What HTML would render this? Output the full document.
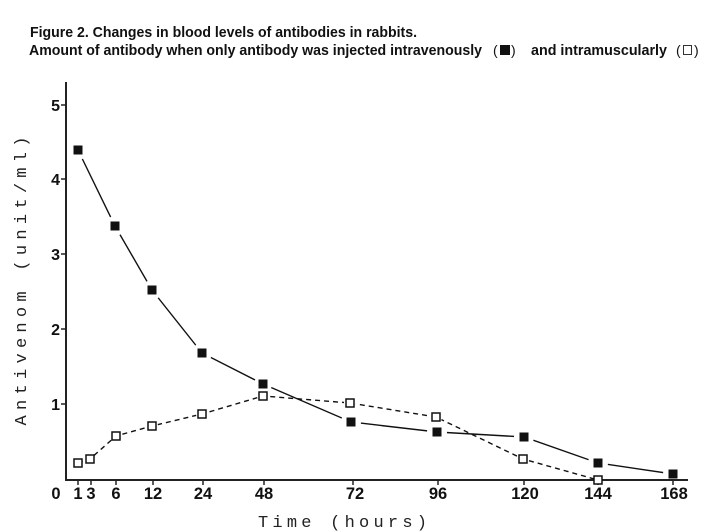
<!DOCTYPE html>
<html><head><meta charset="utf-8"><style>
html,body{margin:0;padding:0;background:#fff;}
svg{display:block;}
</style></head><body>
<svg width="718" height="532" viewBox="0 0 718 532" xmlns="http://www.w3.org/2000/svg">
<rect width="718" height="532" fill="#fff"/>
<!-- Title -->
<g font-family="Liberation Sans, Noto Sans CJK JP, sans-serif" font-size="15" font-weight="bold" fill="#111">
<text x="30" y="37" textLength="387" lengthAdjust="spacingAndGlyphs">Figure 2. Changes in blood levels of antibodies in rabbits.</text>
<text x="29" y="55" textLength="453" lengthAdjust="spacingAndGlyphs">Amount of antibody when only antibody was injected intravenously</text>
<text x="531" y="55" textLength="136" lengthAdjust="spacingAndGlyphs">and intramuscularly</text>
</g>
<g font-family="Liberation Sans, sans-serif" font-size="14" fill="#111">
<text x="493" y="55">(</text>
<text x="511" y="55">)</text>
<text x="676" y="55">(</text>
<text x="694" y="55">)</text>
</g>
<rect x="500" y="45" width="10" height="10" fill="#111"/>
<rect x="683.5" y="45.5" width="8" height="9" fill="none" stroke="#333" stroke-width="1"/>

<!-- series lines -->
<polyline points="78,150 115,226 152,290 202,353 263,384 351,422 437,432 524,437 598,463 673,474" fill="none" stroke="#111" stroke-width="1.4"/>
<polyline points="78,463 90,459 116,436 152,426 202,414 263,396 350,403 436,417 523,459 598,480" fill="none" stroke="#111" stroke-width="1.4" stroke-dasharray="5,4"/>

<!-- halos -->
<g fill="#fff">
<circle cx="78" cy="150" r="10"/><circle cx="115" cy="226" r="10"/><circle cx="152" cy="290" r="10"/>
<circle cx="202" cy="353" r="10"/><circle cx="263" cy="384" r="9"/><circle cx="351" cy="422" r="10"/>
<circle cx="437" cy="432" r="10"/><circle cx="524" cy="437" r="10"/><circle cx="598" cy="463" r="10"/>
<circle cx="673" cy="474" r="10"/>
<circle cx="116" cy="436" r="6"/><circle cx="152" cy="426" r="6"/><circle cx="202" cy="414" r="6"/>
<circle cx="263" cy="396" r="6"/><circle cx="350" cy="403" r="6"/><circle cx="436" cy="417" r="6"/>
<circle cx="523" cy="459" r="6"/>
</g>

<!-- axes -->
<g stroke="#222" stroke-width="2" fill="none">
<line x1="66" y1="82" x2="66" y2="481"/>
<line x1="65" y1="480" x2="688" y2="480"/>
</g>
<g stroke="#222" stroke-width="1.5">
<line x1="61" y1="105" x2="66" y2="105"/>
<line x1="61" y1="179" x2="66" y2="179"/>
<line x1="61" y1="254" x2="66" y2="254"/>
<line x1="61" y1="329" x2="66" y2="329"/>
<line x1="61" y1="404" x2="66" y2="404"/>
<line x1="78" y1="480" x2="78" y2="485"/>
<line x1="91" y1="480" x2="91" y2="485"/>
<line x1="116" y1="480" x2="116" y2="485"/>
<line x1="153" y1="480" x2="153" y2="485"/>
<line x1="203" y1="480" x2="203" y2="485"/>
<line x1="264" y1="480" x2="264" y2="485"/>
<line x1="353" y1="480" x2="353" y2="485"/>
<line x1="438" y1="480" x2="438" y2="485"/>
<line x1="524" y1="480" x2="524" y2="485"/>
<line x1="598" y1="480" x2="598" y2="485"/>
<line x1="673" y1="480" x2="673" y2="485"/>
</g>

<!-- y tick labels -->
<g font-family="Liberation Sans, sans-serif" font-size="16" font-weight="bold" fill="#111" text-anchor="end">
<text x="60" y="111">5</text>
<text x="60" y="185">4</text>
<text x="60" y="260">3</text>
<text x="60" y="335">2</text>
<text x="60" y="410">1</text>
</g>
<!-- x tick labels -->
<g font-family="Liberation Sans, sans-serif" font-size="16.5" font-weight="bold" fill="#111" text-anchor="middle">
<text x="56" y="499">0</text>
<text x="78" y="499">1</text>
<text x="91" y="499">3</text>
<text x="116" y="499">6</text>
<text x="153" y="499">12</text>
<text x="203" y="499">24</text>
<text x="264" y="499">48</text>
<text x="355" y="499">72</text>
<text x="438" y="499">96</text>
<text x="525" y="499">120</text>
<text x="598" y="499">144</text>
<text x="674" y="499">168</text>
</g>

<!-- markers -->
<g fill="#111">
<rect x="73.5" y="145.5" width="9" height="9"/>
<rect x="110.5" y="221.5" width="9" height="9"/>
<rect x="147.5" y="285.5" width="9" height="9"/>
<rect x="197.5" y="348.5" width="9" height="9"/>
<rect x="258.5" y="379.5" width="9" height="9"/>
<rect x="346.5" y="417.5" width="9" height="9"/>
<rect x="432.5" y="427.5" width="9" height="9"/>
<rect x="519.5" y="432.5" width="9" height="9"/>
<rect x="593.5" y="458.5" width="9" height="9"/>
<rect x="668.5" y="469.5" width="9" height="9"/>
</g>
<g fill="#fff" stroke="#111" stroke-width="1.5">
<rect x="74" y="459" width="8" height="8"/>
<rect x="86" y="455" width="8" height="8"/>
<rect x="112" y="432" width="8" height="8"/>
<rect x="148" y="422" width="8" height="8"/>
<rect x="198" y="410" width="8" height="8"/>
<rect x="259" y="392" width="8" height="8"/>
<rect x="346" y="399" width="8" height="8"/>
<rect x="432" y="413" width="8" height="8"/>
<rect x="519" y="455" width="8" height="8"/>
<rect x="594" y="476" width="8" height="8"/>
</g>

<!-- axis titles -->
<text transform="translate(26,281) rotate(-90)" font-family="Liberation Mono, monospace" font-size="17" fill="#222" text-anchor="middle" textLength="289" lengthAdjust="spacing">Antivenom (unit/ml)</text>
<text x="258" y="527" font-family="Liberation Mono, monospace" font-size="17" fill="#222" textLength="169" lengthAdjust="spacing">Time (hours)</text>
</svg>
</body></html>
